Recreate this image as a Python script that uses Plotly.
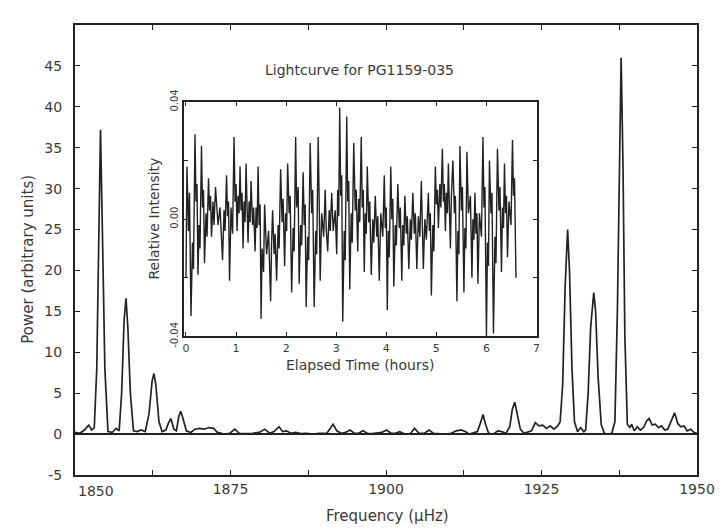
import plotly.graph_objects as go

# ---------------- main power spectrum ----------------
freq = [1850.0, 1850.8, 1851.5, 1852.2, 1852.7, 1853.1, 1853.5, 1853.8, 1854.1, 1854.4,
        1854.8, 1855.3, 1856.0, 1856.6, 1857.1, 1857.5, 1857.9, 1858.2, 1858.5, 1858.9,
        1859.4, 1860.0, 1860.6, 1861.3, 1861.9, 1862.4, 1862.7, 1863.0, 1863.5, 1864.0,
        1864.6, 1865.0, 1865.4, 1865.9, 1866.3, 1866.7, 1867.0, 1867.4, 1867.9, 1868.6,
        1869.3, 1870.0, 1870.8, 1871.5, 1872.3, 1872.9, 1874.0, 1874.9, 1875.7, 1876.4,
        1877.5, 1878.5, 1879.6, 1880.5, 1881.3, 1882.0, 1882.8, 1883.4, 1884.0, 1884.7,
        1885.5, 1886.3, 1887.2, 1888.2, 1889.3, 1890.5, 1891.0, 1891.5, 1892.1, 1892.8,
        1893.5, 1894.2, 1894.9, 1895.6, 1896.3, 1897.0, 1897.8, 1898.6, 1899.3, 1900.1,
        1900.8, 1901.5, 1902.2, 1903.0, 1903.9, 1904.6, 1905.3, 1906.2, 1906.9, 1907.6,
        1908.6, 1909.6, 1910.5, 1911.3, 1912.1, 1912.8, 1913.4, 1914.1, 1914.7, 1915.2,
        1915.6, 1916.0, 1916.5, 1917.2, 1918.0, 1918.6, 1919.3, 1919.9, 1920.3, 1920.7,
        1921.1, 1921.6, 1922.2, 1922.8, 1923.4, 1924.0, 1924.6, 1925.2, 1925.8, 1926.4,
        1927.0, 1927.6, 1928.0, 1928.4, 1928.8, 1929.2, 1929.5, 1929.9, 1930.3, 1930.8,
        1931.3, 1931.8, 1932.1, 1932.5, 1932.9, 1933.4, 1933.7, 1934.1, 1934.6, 1935.1,
        1935.7, 1936.3, 1936.8, 1937.2, 1937.5, 1937.8, 1938.1, 1938.4, 1938.8, 1939.2,
        1939.5, 1939.9, 1940.4, 1940.9, 1941.4, 1941.9, 1942.3, 1942.8, 1943.3, 1943.8,
        1944.3, 1944.8, 1945.3, 1945.9, 1946.4, 1946.9, 1947.4, 1947.9, 1948.4, 1949.0,
        1949.5, 1950.0]
power = [0.2, 0.1, 0.5, 1.1, 0.5, 0.8, 8.0, 25.0, 37.2, 25.0,
         8.0, 0.3, 0.2, 0.7, 0.4, 5.0, 14.0, 16.6, 13.0, 5.0,
         0.4, 0.3, 0.5, 0.3, 2.5, 6.5, 7.4, 6.0, 1.5, 0.3,
         0.5, 1.3, 1.9, 0.6, 0.4, 2.2, 2.8, 1.8, 0.4, 0.2,
         0.6, 0.7, 0.6, 0.8, 0.7, 0.2, 0.0, 0.1, 0.6, 0.1,
         0.05, 0.1, 0.2, 0.6, 0.1, 0.3, 0.9, 0.3, 0.4, 0.1,
         0.2, 0.05, 0.1, 0.0, 0.1, 0.1, 0.6, 1.2, 0.4, 0.1,
         0.2, 0.5, 0.1, 0.1, 0.4, 0.1, 0.05, 0.1, 0.2, 0.5,
         0.1, 0.1, 0.3, 0.0, 0.05, 0.7, 0.1, 0.1, 0.5, 0.1,
         0.05, 0.0, 0.1, 0.4, 0.5, 0.3, 0.0, 0.2, 0.3, 1.4,
         2.4, 1.2, 0.1, 0.0, 0.4, 0.3, 0.1, 0.9, 3.0, 3.9,
         2.5, 0.6, 0.1, 0.3, 0.4, 1.4, 1.0, 1.1, 0.7, 1.0,
         0.6, 1.0, 1.5, 6.0, 18.0, 25.0, 20.0, 8.0, 1.5, 0.3,
         0.8, 0.3, 0.5, 5.0, 13.0, 17.3, 15.0, 7.0, 1.2, 0.1,
         0.0, 0.1, 1.5, 15.0, 33.0, 46.0, 33.0, 12.0, 1.2, 0.8,
         1.2, 0.4, 0.9, 0.5, 0.8, 1.6, 1.9, 1.1, 1.2, 0.8,
         1.0, 0.5, 0.6, 1.8, 2.6, 1.3, 0.9, 1.0, 0.4, 0.6,
         0.2, 0.1]

x_tickvals = [1850, 1862.5, 1875, 1887.5, 1900, 1912.5, 1925, 1937.5, 1950]
x_ticktext = ["", "", "1875", "", "1900", "", "1925", "", "1950"]
x_first_label = "1850"
y_tickvals = [-5, 0, 5, 10, 15, 20, 25, 30, 35, 40, 45]
y_ticktext = ["-5", "0", "5", "10", "15", "20", "25", "30", "35", "40", "45"]

# ---------------- inset light curve ----------------
hours = [0.00, 0.02, 0.05, 0.07, 0.10, 0.13, 0.15, 0.18, 0.20, 0.22,
         0.24, 0.26, 0.28, 0.31, 0.33, 0.35, 0.37, 0.40, 0.42, 0.45,
         0.47, 0.49, 0.51, 0.54, 0.56, 0.59, 0.64, 0.68, 0.73, 0.76,
         0.78, 0.81, 0.83, 0.85, 0.87, 0.90, 0.93, 0.96, 0.98, 1.00,
         1.02, 1.04, 1.06, 1.08, 1.10, 1.12, 1.14, 1.16, 1.18, 1.20,
         1.22, 1.24, 1.26, 1.28, 1.30, 1.33, 1.35, 1.38, 1.40, 1.42,
         1.44, 1.46, 1.48, 1.50, 1.52, 1.55, 1.57, 1.61, 1.65, 1.69,
         1.71, 1.73, 1.76, 1.78, 1.81, 1.84, 1.86, 1.89, 1.92, 1.94,
         1.97, 1.99, 2.01, 2.03, 2.06, 2.08, 2.11, 2.14, 2.16, 2.19,
         2.21, 2.24, 2.26, 2.29, 2.31, 2.34, 2.36, 2.38, 2.40, 2.43,
         2.45, 2.48, 2.51, 2.53, 2.56, 2.59, 2.61, 2.64, 2.66, 2.68,
         2.71, 2.75, 2.78, 2.80, 2.83, 2.86, 2.88, 2.91, 2.94, 2.98,
         3.01, 3.03, 3.05, 3.07, 3.09, 3.11, 3.13, 3.16, 3.18, 3.21,
         3.23, 3.25, 3.27, 3.30, 3.32, 3.35, 3.38, 3.40, 3.43, 3.45,
         3.47, 3.50, 3.52, 3.54, 3.56, 3.58, 3.60, 3.62, 3.65, 3.67,
         3.70, 3.73, 3.75, 3.78, 3.81, 3.83, 3.86, 3.89, 3.93, 3.96,
         3.98, 4.00, 4.02, 4.04, 4.06, 4.09, 4.11, 4.13, 4.15, 4.18,
         4.20, 4.23, 4.26, 4.28, 4.31, 4.33, 4.35, 4.37, 4.40, 4.42,
         4.45, 4.48, 4.50, 4.53, 4.56, 4.58, 4.61, 4.64, 4.67, 4.70,
         4.74, 4.77, 4.80, 4.84, 4.86, 4.88, 4.90, 4.93, 4.95, 4.98,
         5.00, 5.02, 5.04, 5.07, 5.09, 5.12, 5.14, 5.16, 5.18, 5.20,
         5.22, 5.24, 5.26, 5.28, 5.30, 5.33, 5.36, 5.38, 5.41, 5.43,
         5.45, 5.47, 5.50, 5.52, 5.55, 5.57, 5.59, 5.61, 5.64, 5.68,
         5.71, 5.73, 5.75, 5.77, 5.79, 5.81, 5.83, 5.86, 5.90, 5.93,
         5.95, 5.97, 6.00, 6.02, 6.04, 6.06, 6.09, 6.11, 6.14, 6.17,
         6.19, 6.22, 6.25, 6.27, 6.30, 6.32, 6.34, 6.36, 6.38, 6.40,
         6.42, 6.45, 6.49, 6.52, 6.54, 6.56, 6.59]
intensity = [-0.020, 0.018, -0.004, 0.009, -0.033, -0.008, -0.017, 0.029, 0.006, 0.012,
             -0.019, -0.002, -0.010, 0.025, 0.004, 0.010, -0.015, 0.002, -0.006, 0.014,
             0.003, 0.008, -0.006, 0.006, -0.002, 0.011, -0.002, 0.004, -0.014, 0.003,
             -0.004, 0.015, 0.001, 0.006, -0.021, 0.004, -0.005, 0.028, 0.006, 0.012,
             -0.004, 0.008, 0.002, 0.018, 0.003, 0.009, -0.010, 0.006, -0.001, 0.019,
             0.004, -0.008, 0.006, -0.001, 0.013, -0.002, 0.004, -0.011, 0.004, -0.003,
             0.018, -0.002, 0.005, -0.034, -0.010, -0.018, 0.005, -0.012, -0.004, -0.028,
             -0.008, 0.003, -0.012, -0.005, -0.021, -0.002, -0.010, 0.017, -0.001, 0.007,
             -0.016, 0.002, -0.004, 0.019, 0.002, 0.008, -0.025, -0.003, -0.011, 0.028,
             0.004, 0.011, -0.022, -0.002, -0.009, 0.016, -0.002, 0.005, -0.030, -0.006,
             -0.014, 0.026, 0.002, 0.010, -0.030, -0.004, -0.012, 0.028, 0.006, -0.021,
             0.002, -0.006, 0.010, -0.003, -0.011, 0.003, -0.004, 0.009, -0.004, 0.003,
             -0.012, 0.010, 0.001, 0.038, 0.008, 0.015, -0.035, -0.004, -0.014, 0.035,
             0.006, 0.013, -0.024, 0.002, -0.008, 0.026, 0.003, 0.010, -0.011, 0.007,
             -0.001, 0.028, 0.004, 0.010, -0.018, 0.002, -0.005, 0.018, -0.001, 0.006,
             -0.019, 0.000, -0.008, 0.008, -0.006, 0.001, -0.021, 0.002, -0.006, 0.015,
             -0.003, 0.004, -0.031, -0.004, -0.013, 0.018, 0.000, 0.007, -0.023, -0.002,
             -0.009, 0.012, -0.003, 0.004, -0.021, -0.002, -0.009, 0.008, -0.005, 0.001,
             -0.017, 0.000, -0.007, 0.009, -0.005, 0.002, -0.017, 0.001, -0.006, 0.013,
             -0.017, 0.000, -0.007, 0.009, -0.004, 0.002, -0.026, -0.002, -0.011, 0.018,
             0.005, 0.010, -0.003, 0.012, 0.004, 0.024, 0.006, 0.012, -0.004, 0.009,
             0.002, 0.019, 0.004, -0.010, 0.008, 0.020, 0.002, 0.008, -0.028, -0.004,
             -0.012, 0.025, 0.003, 0.011, -0.025, -0.003, -0.010, 0.023, 0.002, 0.008,
             -0.020, 0.000, -0.007, 0.009, -0.005, 0.002, -0.022, 0.002, -0.006, 0.028,
             0.004, 0.011, -0.040, -0.008, -0.016, 0.020, 0.002, 0.009, -0.039, -0.006,
             -0.015, 0.024, 0.003, 0.011, -0.018, 0.004, -0.003, 0.019, 0.002, 0.008,
             -0.013, 0.006, -0.002, 0.027, 0.008, 0.014, -0.020]

inset_xticks = [0, 1, 2, 3, 4, 5, 6, 7]
inset_yticks = [-0.04, -0.02, 0.00, 0.02, 0.04]
inset_yticktext = ["-0.04", "", "0.00", "", "0.04"]

INK = "#222222"
TXT = "#3a3a3a"
FONT = "DejaVu Sans"

fig = go.Figure()
fig.add_trace(go.Scatter(x=freq, y=power, mode="lines",
                         line=dict(color=INK, width=1.7), xaxis="x", yaxis="y",
                         showlegend=False))
fig.add_trace(go.Scatter(x=hours, y=intensity, mode="lines",
                         line=dict(color=INK, width=1.4), xaxis="x2", yaxis="y2",
                         showlegend=False))

axis_common = dict(showline=True, linecolor=INK, linewidth=2, mirror="ticks",
                   ticks="inside", tickcolor=INK, ticklen=5, tickwidth=1,
                   showgrid=False, tickfont=dict(family=FONT, size=14, color=TXT))

fig.update_layout(
    width=727, height=532,
    margin=dict(l=75, r=21, t=14, b=57),
    paper_bgcolor="white", plot_bgcolor="white",
    font=dict(family=FONT, color=TXT),
    xaxis=dict(range=[1850, 1950], tickmode="array", tickvals=x_tickvals,
               ticktext=x_ticktext, zeroline=False, domain=[0, 1], **axis_common),
    yaxis=dict(range=[-5, 50], tickmode="array", tickvals=y_tickvals,
               ticktext=y_ticktext, zeroline=True, zerolinecolor=INK,
               zerolinewidth=1.5, domain=[0, 1], ticklabelstandoff=8, **axis_common),
    xaxis2=dict(range=[-0.03, 7], domain=[0.176, 0.742], anchor="y2",
                tickmode="array", tickvals=inset_xticks,
                showline=True, linecolor=INK, linewidth=2, mirror="ticks",
                ticks="inside", tickcolor=INK, ticklen=4, showgrid=False,
                zeroline=False, tickfont=dict(family=FONT, size=11, color=TXT)),
    yaxis2=dict(range=[-0.04, 0.04], domain=[0.308, 0.829], anchor="x2",
                tickmode="array", tickvals=inset_yticks, ticktext=inset_yticktext,
                tickangle=-90,
                showline=True, linecolor=INK, linewidth=2, mirror="ticks",
                ticks="inside", tickcolor=INK, ticklen=4, showgrid=False,
                zeroline=False, tickfont=dict(family=FONT, size=10, color=TXT)),
    annotations=[
        dict(text=x_first_label, xref="paper", yref="paper",
             x=0.033, y=-0.036, xanchor="center", yanchor="middle",
             showarrow=False, font=dict(family=FONT, size=14, color=TXT)),
        dict(text="Frequency (\u03bcHz)", xref="paper", yref="paper",
             x=0.502, y=-0.092, xanchor="center", yanchor="middle",
             showarrow=False, font=dict(family=FONT, size=15, color=TXT)),
        dict(text="Power (arbitrary units)", xref="paper", yref="paper",
             x=-0.076, y=0.48, xanchor="center", yanchor="middle", textangle=-90,
             showarrow=False, font=dict(family=FONT, size=15, color=TXT)),
        dict(text="Lightcurve for PG1159-035", xref="paper", yref="paper",
             x=0.458, y=0.90, xanchor="center", yanchor="middle",
             showarrow=False, font=dict(family=FONT, size=14, color=TXT)),
        dict(text="Elapsed Time (hours)", xref="paper", yref="paper",
             x=0.458, y=0.245, xanchor="center", yanchor="middle",
             showarrow=False, font=dict(family=FONT, size=14, color=TXT)),
        dict(text="Relative Intensity", xref="paper", yref="paper",
             x=0.127, y=0.57, xanchor="center", yanchor="middle", textangle=-90,
             showarrow=False, font=dict(family=FONT, size=14, color=TXT)),
    ],
)

fig.write_html("out.html")
